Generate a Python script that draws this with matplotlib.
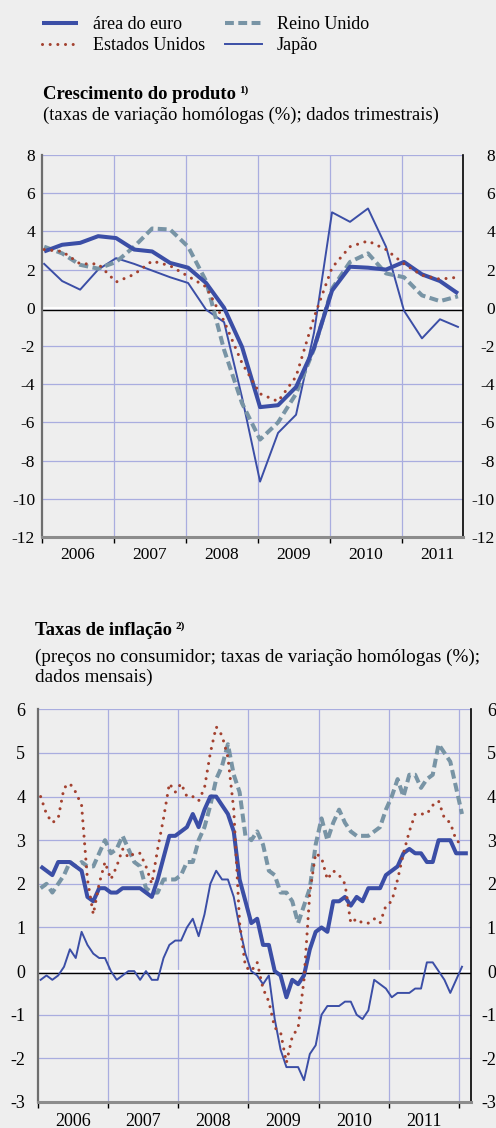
import numpy as np
import matplotlib.pyplot as plt
import matplotlib.transforms as mtransforms

plt.rcParams['font.family'] = ['Liberation Serif', 'DejaVu Serif']
plt.rcParams['axes.unicode_minus'] = False

W, H = 496, 1128
BG = '#eeeeee'
BLUE = '#3b4ea6'
UKCOL = '#7894a5'
USCOL = '#a3412f'
GRID = '#a9addf'

labels = ['área do euro', 'Estados Unidos', 'Reino Unido', 'Japão']
year_labels = ['2006', '2007', '2008', '2009', '2010', '2011']

# output growth, quarterly 2006Q1-2011Q4 (% y-o-y)
gdp_euro = [2.95, 3.3, 3.4, 3.75, 3.65, 3.05, 2.95, 2.35, 2.1, 1.3, 0.0, -2.05,
            -5.2, -5.1, -4.15, -2.1, 0.9, 2.15, 2.1, 2.0, 2.4, 1.75, 1.4, 0.75]
gdp_us = [3.05, 2.95, 2.3, 2.3, 1.35, 1.75, 2.45, 2.2, 1.65, 1.1, -0.7, -2.9,
          -4.5, -4.9, -3.6, -0.5, 2.1, 3.2, 3.5, 3.05, 2.3, 1.7, 1.5, 1.6]
gdp_uk = [3.2, 2.85, 2.25, 2.05, 2.4, 3.2, 4.15, 4.1, 3.2, 1.4, -2.2, -5.0,
          -6.9, -6.0, -4.5, -2.15, 1.0, 2.4, 2.85, 1.8, 1.6, 0.65, 0.35, 0.6]
gdp_jp = [2.3, 1.4, 0.95, 2.0, 2.6, 2.3, 1.95, 1.6, 1.3, -0.1, -0.75, -4.7,
          -9.1, -6.55, -5.6, -1.3, 5.0, 4.5, 5.2, 3.2, -0.15, -1.6, -0.6, -1.0]

# consumer price inflation, monthly from Jan 2006 (% y-o-y)
cpi_euro = [2.4, 2.3, 2.2, 2.5, 2.5, 2.5, 2.4, 2.3, 1.7, 1.6, 1.9, 1.9,
            1.8, 1.8, 1.9, 1.9, 1.9, 1.9, 1.8, 1.7, 2.1, 2.6, 3.1, 3.1,
            3.2, 3.3, 3.6, 3.3, 3.7, 4.0, 4.0, 3.8, 3.6, 3.2, 2.1, 1.6,
            1.1, 1.2, 0.6, 0.6, 0.0, -0.1, -0.6, -0.2, -0.3, -0.1, 0.5, 0.9,
            1.0, 0.9, 1.6, 1.6, 1.7, 1.5, 1.7, 1.6, 1.9, 1.9, 1.9, 2.2,
            2.3, 2.4, 2.7, 2.8, 2.7, 2.7, 2.5, 2.5, 3.0, 3.0, 3.0, 2.7,
            2.7, 2.7]
cpi_us = [4.0, 3.6, 3.4, 3.5, 4.2, 4.3, 4.1, 3.8, 2.1, 1.3, 2.0, 2.5,
          2.1, 2.4, 2.8, 2.6, 2.7, 2.7, 2.4, 2.0, 2.8, 3.5, 4.3, 4.1,
          4.3, 4.0, 4.0, 3.9, 4.2, 5.0, 5.6, 5.4, 4.9, 3.7, 1.1, 0.1,
          0.0, 0.2, -0.4, -0.7, -1.3, -1.4, -2.1, -1.5, -1.3, -0.2, 1.8, 2.7,
          2.6, 2.1, 2.3, 2.2, 2.0, 1.1, 1.2, 1.1, 1.1, 1.2, 1.1, 1.5,
          1.6, 2.1, 2.7, 3.2, 3.6, 3.6, 3.6, 3.8, 3.9, 3.5, 3.4, 3.0,
          2.9]
cpi_uk = [1.9, 2.0, 1.8, 2.0, 2.2, 2.5, 2.4, 2.5, 2.4, 2.4, 2.7, 3.0,
          2.7, 2.8, 3.1, 2.8, 2.5, 2.4, 1.9, 1.8, 1.8, 2.1, 2.1, 2.1,
          2.2, 2.5, 2.5, 3.0, 3.3, 3.8, 4.4, 4.7, 5.2, 4.5, 4.1, 3.1,
          3.0, 3.2, 2.9, 2.3, 2.2, 1.8, 1.8, 1.6, 1.1, 1.5, 1.9, 2.9,
          3.5, 3.0, 3.4, 3.7, 3.4, 3.2, 3.1, 3.1, 3.1, 3.2, 3.3, 3.7,
          4.0, 4.4, 4.0, 4.5, 4.5, 4.2, 4.4, 4.5, 5.2, 5.0, 4.8, 4.2,
          3.6]
cpi_jp = [-0.2, -0.1, -0.2, -0.1, 0.1, 0.5, 0.3, 0.9, 0.6, 0.4, 0.3, 0.3,
          0.0, -0.2, -0.1, 0.0, 0.0, -0.2, 0.0, -0.2, -0.2, 0.3, 0.6, 0.7,
          0.7, 1.0, 1.2, 0.8, 1.3, 2.0, 2.3, 2.1, 2.1, 1.7, 1.0, 0.4,
          0.0, -0.1, -0.3, -0.1, -1.1, -1.8, -2.2, -2.2, -2.2, -2.5, -1.9, -1.7,
          -1.0, -0.8, -0.8, -0.8, -0.7, -0.7, -1.0, -1.1, -0.9, -0.2, -0.3, -0.4,
          -0.6, -0.5, -0.5, -0.5, -0.4, -0.4, 0.2, 0.2, 0.0, -0.2, -0.5, -0.2,
          0.1]

st_euro = dict(color=BLUE, lw=2.9, solid_capstyle='butt')
st_us = dict(color=USCOL, lw=2.2, linestyle=(0, (0.01, 2.5)), dash_capstyle='round')
st_uk = dict(color=UKCOL, lw=2.9, linestyle=(0, (2.2, 1.1)), dash_capstyle='butt')
st_jp = dict(color=BLUE, lw=1.4)


def fx(x):
    return x / W


def fy(y):
    return 1 - y / H


def setup(ax, xlim, ylim, yticks, major_years, lpad, rpad, fs, xpad):
    ax.set_facecolor(BG)
    ax.set_xlim(*xlim)
    ax.set_ylim(*ylim)
    ax.set_yticks(yticks)
    ax.set_yticklabels([str(v) for v in yticks], fontsize=fs)
    ax.tick_params(axis='y', length=0, pad=lpad)
    ax.yaxis.grid(True, color=GRID, lw=0.9)
    ax.set_axisbelow(True)
    for yr in major_years[1:]:
        if yr < xlim[1]:
            ax.axvline(yr, color=GRID, lw=0.9, zorder=0.5)
    ax.set_xticks([y for y in major_years if y <= xlim[1]])
    ax.set_xticklabels([])
    ax.set_xticks([y + 0.5 for y in major_years[:6]], minor=True)
    ax.set_xticklabels(year_labels, minor=True, fontsize=fs)
    ax.tick_params(axis='x', which='major', length=4, width=1, color='black', direction='out')
    ax.tick_params(axis='x', which='minor', length=0, pad=xpad)
    ax.spines['top'].set_visible(False)
    ax.spines['left'].set_color('#6e6e6e')
    ax.spines['left'].set_linewidth(1.6)
    ax.spines['right'].set_color('black')
    ax.spines['right'].set_linewidth(1.2)
    ax.spines['bottom'].set_color('#8c8c8c')
    ax.spines['bottom'].set_linewidth(2.2)
    # zero line: white band with a black rule just below it
    ax.axhline(0, color='white', lw=1.6, zorder=1.5)
    shift = mtransforms.ScaledTranslation(0, -2 / 100, ax.figure.dpi_scale_trans)
    ax.plot([0, 1], [0, 0], transform=ax.get_yaxis_transform() + shift,
            color='black', lw=1.0, zorder=1.6)
    ax2 = ax.twinx()
    ax2.set_ylim(*ylim)
    ax2.set_yticks(yticks)
    ax2.set_yticklabels([str(v) for v in yticks], fontsize=fs)
    ax2.tick_params(axis='y', length=0, pad=rpad)
    for t in ax2.get_yticklabels():
        t.set_horizontalalignment('right')
    for s in ax2.spines.values():
        s.set_visible(False)
    return ax2


fig = plt.figure(figsize=(W / 100, H / 100), dpi=100)
fig.patch.set_facecolor(BG)

# --- output growth ---
ax1 = fig.add_axes([fx(42), fy(537), fx(463) - fx(42), (537 - 155) / H])
q_t = 2006 + np.arange(len(gdp_euro)) / 4 + 0.03
setup(ax1, (2006.0, 2011.85), (-12, 8), list(range(-12, 9, 2)),
      list(range(2006, 2013)), 5, 23, 12.5, 7)
l_jp, = ax1.plot(q_t, gdp_jp, **st_jp, zorder=3)
l_uk, = ax1.plot(q_t, gdp_uk, **st_uk, zorder=3)
l_eu, = ax1.plot(q_t, gdp_euro, **st_euro, zorder=4)
l_us, = ax1.plot(q_t, gdp_us, **st_us, zorder=5)

# --- inflation ---
ax3 = fig.add_axes([fx(37.7), fy(1102), fx(471) - fx(37.7), (1102 - 709.3) / H])
m_eu = 2006 + (np.arange(len(cpi_euro)) + 0.5) / 12
m_ot = 2006 + (np.arange(len(cpi_us)) + 0.5) / 12
setup(ax3, (2006.0, 2012.17), (-3, 6), list(range(-3, 7)),
      list(range(2006, 2013)), 9, 18, 13, 8)
ax3.plot(m_ot, cpi_jp, **st_jp, zorder=3)
ax3.plot(m_ot, cpi_uk, **st_uk, zorder=3)
ax3.plot(m_eu, cpi_euro, **st_euro, zorder=4)
ax3.plot(m_ot, cpi_us, **st_us, zorder=5)

# legend
fig.legend([l_eu, l_us, l_uk, l_jp], labels, ncol=2, loc='upper left',
           bbox_to_anchor=(fx(42), fy(16)), frameon=False, fontsize=13,
           handlelength=2.0, handletextpad=0.85, columnspacing=1.1,
           labelspacing=0.23, borderpad=0, borderaxespad=0)

# titles
r = fig.canvas.get_renderer()
t1 = fig.text(fx(42.7), fy(99), 'Crescimento do produto', fontsize=13.4, fontweight='bold')
bb = t1.get_window_extent(r)
fig.text((bb.x1 + 3) / W, fy(93), '1)', fontsize=8, fontweight='bold')
fig.text(fx(42.7), fy(120), '(taxas de variação homólogas (%); dados trimestrais)', fontsize=13.45)

t2 = fig.text(fx(35), fy(635), 'Taxas de inflação', fontsize=13.4, fontweight='bold')
bb = t2.get_window_extent(r)
fig.text((bb.x1 + 3) / W, fy(629), '2)', fontsize=8, fontweight='bold')
fig.text(fx(35), fy(661.5), '(preços no consumidor; taxas de variação homólogas (%);', fontsize=13.8)
fig.text(fx(35), fy(681.5), 'dados mensais)', fontsize=13.8)

fig.savefig('out.png', dpi=100, facecolor=BG)
